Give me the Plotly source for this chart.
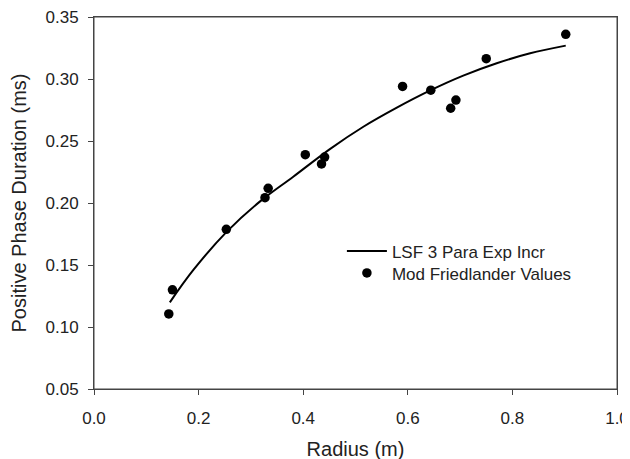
import plotly.graph_objects as go

# Measured data points (Mod Friedlander Values)
radius_pts = [0.143, 0.150, 0.253, 0.327, 0.333, 0.404, 0.435, 0.441,
              0.590, 0.644, 0.682, 0.692, 0.750, 0.902]
duration_pts = [0.1105, 0.130, 0.1788, 0.2043, 0.2118, 0.239, 0.2315, 0.237,
                0.294, 0.291, 0.2764, 0.283, 0.3164, 0.336]

# Fitted curve (LSF 3 Para Exp Incr)
radius_fit = [0.145, 0.190, 0.254, 0.317, 0.381, 0.451, 0.515, 0.579,
              0.642, 0.706, 0.770, 0.834, 0.902]
duration_fit = [0.1199, 0.146, 0.1769, 0.2011, 0.2212, 0.2435, 0.2615, 0.2769,
                0.2906, 0.3027, 0.3127, 0.3207, 0.3269]

x_ticks = [0.0, 0.2, 0.4, 0.6, 0.8, 1.0]
y_ticks = [0.05, 0.10, 0.15, 0.20, 0.25, 0.30, 0.35]

FONT = "Liberation Sans, Arial, sans-serif"
TXT = "#222222"
AXC = "#444444"

fig = go.Figure()
fig.add_trace(go.Scatter(
    x=radius_fit, y=duration_fit, mode="lines",
    line=dict(color="black", width=2, shape="spline"),
    name="LSF 3 Para Exp Incr", legend="legend"))
fig.add_trace(go.Scatter(
    x=radius_pts, y=duration_pts, mode="markers",
    marker=dict(color="black", size=9.5),
    name="Mod Friedlander Values", legend="legend2"))

axis_common = dict(
    showgrid=False, zeroline=False, showline=True, linecolor=AXC,
    linewidth=1, mirror=True, ticks="outside", ticklen=5, tickcolor=AXC,
    tickfont=dict(family=FONT, size=17, color=TXT),
    ticklabeloverflow="allow", automargin=False,
)

legend_common = dict(xanchor="left", yanchor="top", bgcolor="rgba(0,0,0,0)",
                     itemwidth=40, font=dict(family=FONT, size=17, color=TXT))

fig.update_layout(
    width=630, height=459,
    margin=dict(l=86, r=21, t=9, b=78),
    paper_bgcolor="white", plot_bgcolor="white",
    font=dict(family=FONT, color=TXT),
    showlegend=True,
    legend=dict(x=0.474, y=0.4183, **legend_common),
    legend2=dict(x=0.474, y=0.3591, **legend_common),
    xaxis=dict(range=[0.0, 1.0], tickvals=x_ticks,
               ticktext=[f"{v:.1f}" for v in x_ticks],
               ticklabelstandoff=9,
               title=dict(text="Radius (m)", standoff=14,
                          font=dict(family=FONT, size=20, color=TXT)),
               **axis_common),
    yaxis=dict(range=[0.05, 0.35], tickvals=y_ticks,
               ticktext=[f"{v:.2f}" for v in y_ticks],
               ticklabelstandoff=6,
               title=dict(text="Positive Phase Duration (ms)", standoff=14,
                          font=dict(family=FONT, size=20, color=TXT)),
               **axis_common),
    shapes=[dict(type="rect", xref="paper", yref="paper", x0=0, x1=1, y0=0, y1=1,
                 line=dict(color=AXC, width=1), fillcolor="rgba(0,0,0,0)",
                 layer="above")],
)

fig.write_html("out.html")
